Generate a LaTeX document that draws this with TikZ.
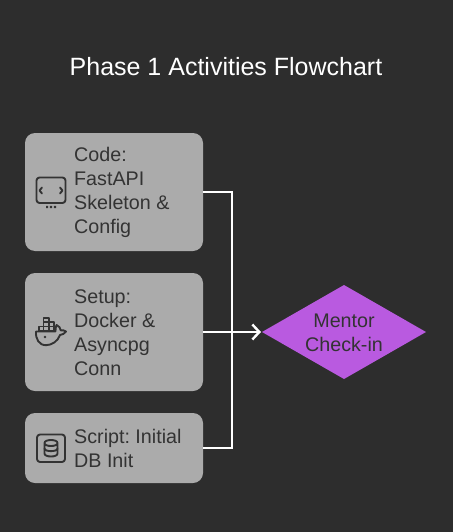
\documentclass[tikz,border=0pt]{standalone}
\usepackage{fontspec}
\setmainfont{Liberation Sans}
\usetikzlibrary{arrows.meta,shapes.geometric}
\definecolor{bgc}{HTML}{2D2D2D}
\definecolor{boxc}{HTML}{ABABAB}
\definecolor{inkc}{HTML}{333333}
\definecolor{diac}{HTML}{B95AE0}
\tikzset{
  x=1pt,y=-1pt,
  card/.style={draw=none,fill=boxc,rounded corners=10pt,minimum width=178pt,inner sep=0pt,outer sep=0pt},
  cardtext/.style={anchor=west,align=left,text=inkc,inner sep=0pt,font=\fontsize{19.7}{24}\selectfont\frenchspacing},
  wire/.style={draw=white,line width=2pt},
  icon/.style={draw=inkc,line width=1.9pt,line cap=round,line join=round},
}
\begin{document}
\begin{tikzpicture}
\useasboundingbox (0,0) rectangle (453,532);
\fill[bgc] (0,0) rectangle (453,532);
\node[text=white,inner sep=0pt,font=\fontsize{25}{30}\selectfont\frenchspacing] (title) at (226,66.5) {Phase 1 Activities Flowchart};
\node[card,minimum height=118pt] (b1) at (114,192) {};
\node[card,minimum height=118pt] (b2) at (114,332) {};
\node[card,minimum height=70pt] (b3) at (114,448) {};
\node[diamond,fill=diac,draw=none,aspect=1.745,inner sep=0pt,outer sep=0pt,minimum width=164pt,minimum height=94pt] (d) at (344,332) {};
\node[text=inkc,align=center,inner sep=0pt,font=\fontsize{19.7}{24}\selectfont] (dt) at (344,332.5) {Mentor\\Check-in};
\node[cardtext] (t1) at (74,192.5) {Code:\\FastAPI\\Skeleton \&\\Config};
\node[cardtext] (t2) at (74,332.5) {Setup:\\Docker \&\\Asyncpg\\Conn};
\node[cardtext] (t3) at (74,448.5) {Script: Initial\\DB Init};
\coordinate (j) at (232,332);
\draw[wire] (b1.east) -| (j);
\draw[wire] (b3.east) -| (j);
\draw[wire,-{Straight Barb[length=7pt,width=15pt,line width=2.4pt]}] (b2.east) -- ([xshift=-1pt]d.west);
% code icon
\draw[icon,rounded corners=3pt] (36.5,177.5) rectangle (65.5,203);
\draw[icon] (42,187.5) -- (39.5,190.5) -- (42,193.5);
\draw[icon] (60,187.5) -- (62.5,190.5) -- (60,193.5);
\fill[inkc] (46,205.8) rectangle (48.2,208) (49.9,205.8) rectangle (52.1,208) (53.8,205.8) rectangle (56,208);
% docker icon
\draw[icon,line width=1.4pt] (43.5,318) rectangle (49,322) (43.5,322) rectangle (49,326.2) (49,322) rectangle (54,326.2)
 (39,326.2) rectangle (43.5,331) (43.5,326.2) rectangle (49,331) (49,326.2) rectangle (54,331);
\draw[icon] (36,331.5) -- (55.5,331.5) .. controls (55.5,329) and (55.5,327) .. (56.5,325)
 .. controls (59,326) and (60.5,328) .. (60.7,330.3) .. controls (62.5,330) and (64.5,330.3) .. (66,331.5)
 .. controls (64.5,333.5) and (62.5,334.8) .. (60,335) .. controls (58,341) and (52,345.2) .. (46,345.2)
 .. controls (39,345.2) and (35.5,339) .. (36,331.5) -- cycle;
\fill[inkc] (45,337) circle (1.4pt);
% database icon
\draw[icon,rounded corners=3pt] (37,434.5) rectangle (65,462);
\draw[icon] (44.5,443) .. controls (44.5,439) and (57.5,439) .. (57.5,443)
 .. controls (57.5,447) and (44.5,447) .. (44.5,443) -- (44.5,453.5)
 .. controls (44.5,457.5) and (57.5,457.5) .. (57.5,453.5) -- (57.5,443);
\draw[icon] (44.5,448.5) .. controls (44.5,452) and (57.5,452) .. (57.5,448.5);
\end{tikzpicture}
\end{document}
